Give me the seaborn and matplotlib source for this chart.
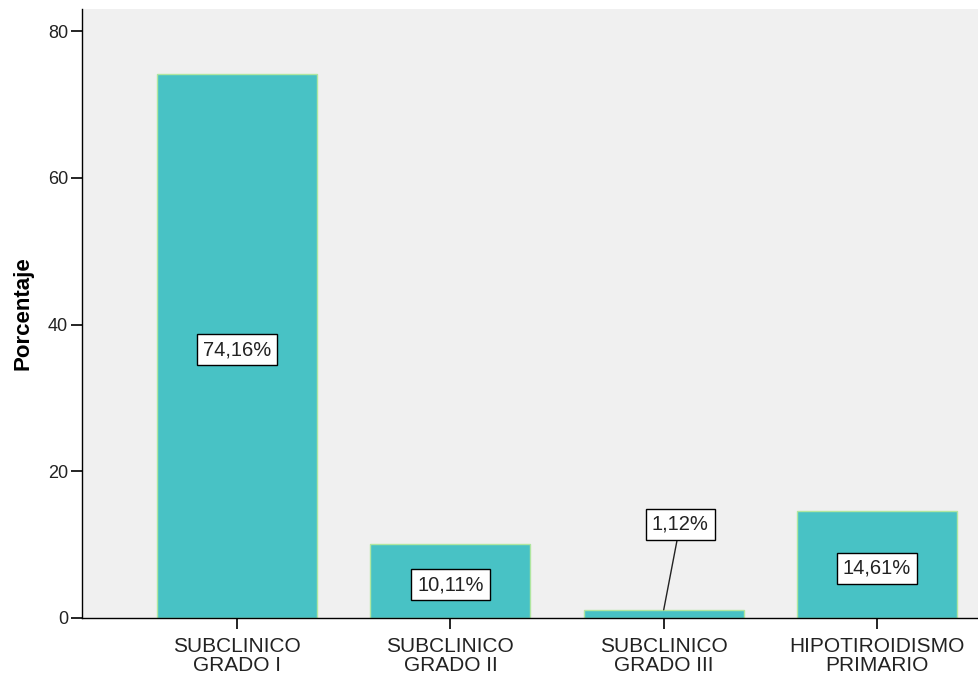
import matplotlib
matplotlib.use("Agg")
import matplotlib.pyplot as plt
import seaborn as sns
import pandas as pd

categories = ["SUBCLINICO\nGRADO I", "SUBCLINICO\nGRADO II", "SUBCLINICO\nGRADO III", "HIPOTIROIDISMO\nPRIMARIO"]
percentages = [74.16, 10.11, 1.12, 14.61]
value_labels = ["74,16%", "10,11%", "1,12%", "14,61%"]
y_ticks = [0, 20, 40, 60, 80]

sns.set_theme(style="white")
plt.rcParams["font.family"] = ["Liberation Sans", "DejaVu Sans"]

df = pd.DataFrame({"categoria": categories, "porcentaje": percentages})

fig = plt.figure(figsize=(9.79, 6.77), dpi=100)
ax = fig.add_axes([82 / 979, 59 / 677, 1 - 82 / 979, 609 / 677])
ax.set_facecolor("#F0F0F0")

sns.barplot(data=df, x="categoria", y="porcentaje", ax=ax, color="#48C2C5",
            saturation=1, width=0.75, edgecolor="#B0E6A0", linewidth=1.0)

ax.set_xlim(-0.727, 3.478)
ax.set_ylim(0, 83)
ax.set_yticks(y_ticks)
ax.set_yticklabels([str(t) for t in y_ticks])
ax.set_xlabel("")
ax.set_ylabel("Porcentaje", fontsize=16, fontweight="bold", labelpad=10, color="black")

for s in ["top", "right"]:
    ax.spines[s].set_visible(False)
for s in ["left", "bottom"]:
    ax.spines[s].set_color("black")
    ax.spines[s].set_linewidth(1.0)

ax.tick_params(axis="both", direction="out", length=8, width=1.2, color="black",
               labelcolor="#222222", left=True, bottom=True)
ax.tick_params(axis="y", labelsize=13, pad=2)
ax.tick_params(axis="x", labelsize=15, pad=6)
for lbl in ax.get_xticklabels():
    lbl.set_linespacing(0.95)

box = dict(boxstyle="square,pad=0.3", facecolor="white", edgecolor="black", linewidth=1.0)
for i, (v, txt) in enumerate(zip(percentages, value_labels)):
    if v < 3:
        ax.annotate(txt, xy=(i, v), xytext=(i + 0.077, 12.8), ha="center", va="center",
                    fontsize=14.5, color="#222222", bbox=box,
                    arrowprops=dict(arrowstyle="-", color="#222222", lw=1.0,
                                    shrinkA=0, shrinkB=0))
    else:
        ax.text(i, v / 2 - 0.5, txt, ha="center", va="center", fontsize=14.5,
                color="#222222", bbox=box)

fig.savefig("out.png", dpi=100)
